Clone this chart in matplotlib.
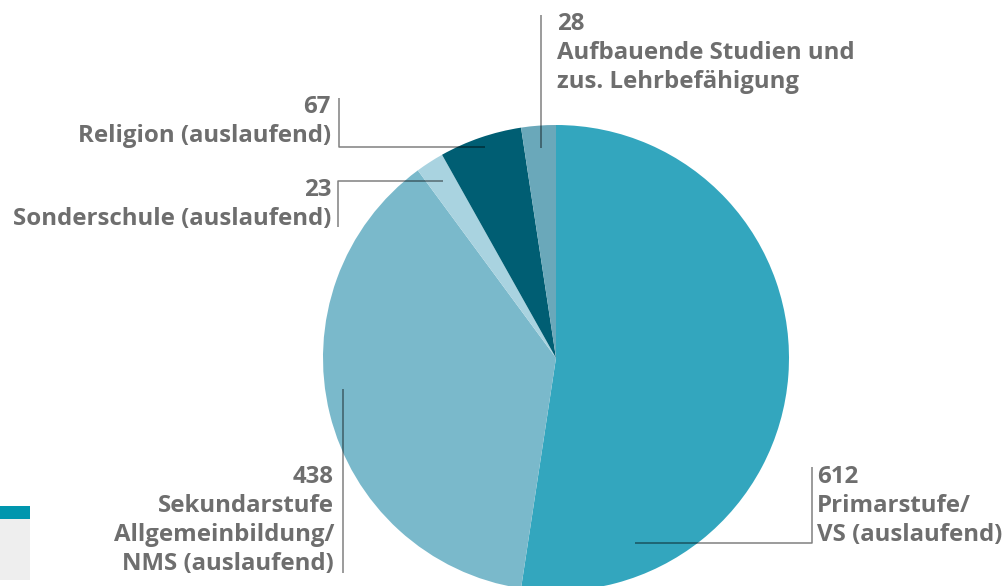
import matplotlib.pyplot as plt
from matplotlib.patches import Rectangle

W, H = 1007, 586

values = [612, 438, 23, 67, 28]
numbers = ['612', '438', '23', '67', '28']
names = ['Primarstufe/\nVS (auslaufend)',
         'Sekundarstufe\nAllgemeinbildung/\nNMS (auslaufend)',
         'Sonderschule (auslaufend)',
         'Religion (auslaufend)',
         'Aufbauende Studien und\nzus. Lehrbefähigung']
colors = ['#33A6BE', '#7AB9CB', '#A9D3E0', '#005E73', '#6AA8BA']

# label layout in pixel coords (x, y top of text, alignment)
label_pos = [(817, 465, 'left'), (334, 465, 'right'), (331, 178, 'right'),
             (331, 95, 'right'), (557, 12, 'left')]
# connector polylines in pixel coords
connectors = [
    [(635, 543), (812, 543), (812, 467)],
    [(343, 389), (343, 573)],
    [(443, 181), (338, 181), (338, 227)],
    [(485, 147), (339, 147), (339, 98)],
    [(541, 148), (541, 15)],
]

TXT = '#6E6E6E'


def Y(y):
    return H - y


def main():
    plt.rcParams['font.family'] = ['Open Sans', 'DejaVu Sans']
    fig = plt.figure(figsize=(W / 100, H / 100), dpi=100)
    ax = fig.add_axes([0, 0, 1, 1])

    ax.pie(values, colors=colors, startangle=90, counterclock=False,
           center=(556, Y(358)), radius=233, frame=True,
           wedgeprops=dict(linewidth=0))

    # small legend-like boxes at the lower left
    ax.add_patch(Rectangle((0, Y(519)), 30, 13, color='#0096AE', lw=0))
    ax.add_patch(Rectangle((0, Y(580)), 30, 61, color='#EEEEEE', lw=0))

    for line in connectors:
        xs = [p[0] for p in line]
        ys = [Y(p[1]) for p in line]
        ax.plot(xs, ys, color='black', alpha=0.5, lw=1.1,
                solid_capstyle='butt')

    for (x, y, ha), num, name in zip(label_pos, numbers, names):
        ax.text(x, Y(y), num + '\n' + name, ha=ha, va='top',
                fontsize=17.3, fontweight='bold', color=TXT,
                linespacing=1.27, multialignment=ha)

    ax.set_xlim(0, W)
    ax.set_ylim(0, H)
    ax.set_aspect('equal')
    ax.axis('off')
    fig.savefig('out.png', dpi=100)


if __name__ == "__main__":
    main()
